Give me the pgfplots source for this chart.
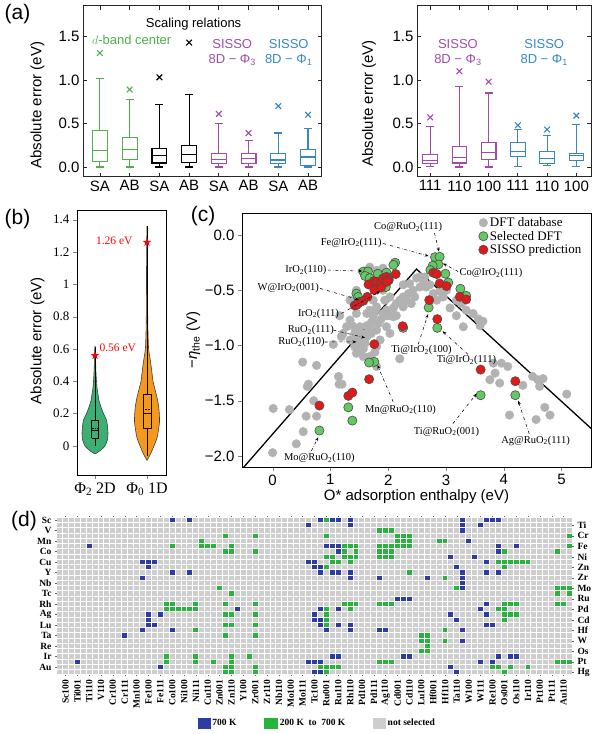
\documentclass[border=0pt]{standalone}
\usepackage{fontspec}
\setmainfont{Liberation Sans}
\newfontfamily\tnr{Liberation Serif}
\usepackage{pgfplots}
\pgfplotsset{compat=1.18}
\usepgfplotslibrary{statistics}
\usetikzlibrary{arrows.meta}

\definecolor{agreen}{RGB}{80,175,75}
\definecolor{apurple}{RGB}{160,75,170}
\definecolor{ablue}{RGB}{55,135,200}
\definecolor{vgreen}{RGB}{60,175,115}
\definecolor{vorange}{RGB}{247,152,30}
\definecolor{dgray}{RGB}{178,178,178}
\definecolor{sgreen}{RGB}{100,200,100}
\definecolor{sred}{RGB}{225,25,25}
\definecolor{hblue}{RGB}{45,60,165}
\definecolor{hgreen}{RGB}{40,180,60}
\definecolor{hgray}{RGB}{206,206,206}

\newcommand{\fA}{\fontsize{15}{18}\selectfont}
\newcommand{\fB}{\fontsize{13}{14.5}\selectfont}
\newcommand{\fT}{\tnr\fontsize{13}{15}\selectfont}
\newcommand{\fS}{\tnr\fontsize{10.5}{12}\selectfont}
\newcommand{\fD}{\tnr\bfseries\fontsize{9.5}{10}\selectfont}
\newcommand{\fP}{\fontsize{21}{24}\selectfont}

\pgfdeclareplotmark{fstar}{%
  \pgfpathmoveto{\pgfpointpolar{90}{\pgfplotmarksize}}%
  \pgfpathlineto{\pgfpointpolar{126}{0.4\pgfplotmarksize}}%
  \pgfpathlineto{\pgfpointpolar{162}{\pgfplotmarksize}}%
  \pgfpathlineto{\pgfpointpolar{198}{0.4\pgfplotmarksize}}%
  \pgfpathlineto{\pgfpointpolar{234}{\pgfplotmarksize}}%
  \pgfpathlineto{\pgfpointpolar{270}{0.4\pgfplotmarksize}}%
  \pgfpathlineto{\pgfpointpolar{306}{\pgfplotmarksize}}%
  \pgfpathlineto{\pgfpointpolar{342}{0.4\pgfplotmarksize}}%
  \pgfpathlineto{\pgfpointpolar{18}{\pgfplotmarksize}}%
  \pgfpathlineto{\pgfpointpolar{54}{0.4\pgfplotmarksize}}%
  \pgfpathclose\pgfusepathqfill}
\pgfdeclareplotmark{cell}{\pgfpathrectangle{\pgfqpoint{-2.45pt}{-2.1pt}}{\pgfqpoint{4.9pt}{4.2pt}}\pgfusepathqfill}

\begin{document}
\begin{tikzpicture}
\useasboundingbox (0pt,0pt) rectangle (600pt,734pt);

% ---------------- (a) left
\begin{axis}[
  at={(83pt,557pt)}, anchor=south west, scale only axis,
  width=239pt, height=171pt,
  xmin=-0.57, xmax=7.47, ymin=-0.115, ymax=1.85,
  xtick={0,1,2,3,4,5,6,7}, xticklabels={SA,AB,SA,AB,SA,AB,SA,AB},
  ytick={0,0.5,1,1.5},
  yticklabel style={/pgf/number format/fixed,/pgf/number format/fixed zerofill,/pgf/number format/precision=1},
  /pgf/number format/assume math mode=true,
  tick label style={font=\fA},
  ylabel={Absolute error (eV)},
  ylabel style={font=\fA, at={(axis description cs:-0.19,0.42)}, anchor=center},
  tick align=inside, major tick length=4pt,
  axis line style={line width=1pt, black!85},
  tick style={line width=0.8pt, black!85},
  boxplot/draw direction=y,
  boxplot/box extend=0.5, boxplot/whisker extend=0.27,
  clip=false,
]
\addplot[agreen, line width=1.1pt, mark=x, mark size=4pt, boxplot prepared={draw position=0, lower whisker=0, lower quartile=0.065, median=0.19, upper quartile=0.42, upper whisker=1.015}] coordinates {(0,1.31)};
\addplot[agreen, line width=1.1pt, mark=x, mark size=4pt, boxplot prepared={draw position=1, lower whisker=0, lower quartile=0.085, median=0.2, upper quartile=0.34, upper whisker=0.78}] coordinates {(1,0.89)};
\addplot[black, line width=1.1pt, mark=x, mark size=4pt, boxplot prepared={draw position=2, lower whisker=0, lower quartile=0.046, median=0.13, upper quartile=0.21, upper whisker=0.715}] coordinates {(2,1.03)};
\addplot[black, line width=1.1pt, mark=x, mark size=4pt, boxplot prepared={draw position=3, lower whisker=0, lower quartile=0.054, median=0.14, upper quartile=0.25, upper whisker=0.83}] coordinates {(3,1.43)};
\addplot[apurple, line width=1.1pt, mark=x, mark size=4pt, boxplot prepared={draw position=4, lower whisker=0, lower quartile=0.035, median=0.085, upper quartile=0.15, upper whisker=0.5}] coordinates {(4,0.61)};
\addplot[apurple, line width=1.1pt, mark=x, mark size=4pt, boxplot prepared={draw position=5, lower whisker=0, lower quartile=0.04, median=0.1, upper quartile=0.16, upper whisker=0.3}] coordinates {(5,0.39)};
\addplot[ablue, line width=1.1pt, mark=x, mark size=4pt, boxplot prepared={draw position=6, lower whisker=0, lower quartile=0.04, median=0.08, upper quartile=0.15, upper whisker=0.39}] coordinates {(6,0.7)};
\addplot[ablue, line width=1.1pt, mark=x, mark size=4pt, boxplot prepared={draw position=7, lower whisker=0, lower quartile=0.02, median=0.115, upper quartile=0.2, upper whisker=0.44}] coordinates {(7,0.6)};
\node[agreen, font=\fB] at (axis cs:1.07,1.465) {$d$-band center};
\node[font=\fB] at (axis cs:3.15,1.64) {Scaling relations};
\node[apurple, font=\fB, align=center] at (axis cs:4.45,1.315) {SISSO\\8D − Φ\textsubscript{3}};
\node[ablue, font=\fB, align=center] at (axis cs:6.35,1.315) {SISSO\\8D − Φ\textsubscript{1}};
\end{axis}

% ---------------- (a) right
\begin{axis}[
  at={(417pt,557pt)}, anchor=south west, scale only axis,
  width=174pt, height=171pt,
  xmin=-0.45, xmax=5.5, ymin=-0.115, ymax=1.85,
  xtick={0,1,2,3,4,5}, xticklabels={111,110,100,111,110,100},
  ytick={0,0.5,1,1.5},
  yticklabel style={/pgf/number format/fixed,/pgf/number format/fixed zerofill,/pgf/number format/precision=1},
  /pgf/number format/assume math mode=true,
  tick label style={font=\fA},
  ylabel={Absolute error (eV)},
  ylabel style={font=\fA, at={(axis description cs:-0.276,0.43)}, anchor=center},
  tick align=inside, major tick length=4pt,
  axis line style={line width=1pt, black!85},
  tick style={line width=0.8pt, black!85},
  boxplot/draw direction=y,
  boxplot/box extend=0.5, boxplot/whisker extend=0.27,
  clip=false,
]
\addplot[apurple, line width=1.1pt, mark=x, mark size=4pt, boxplot prepared={draw position=0, lower whisker=0.01, lower quartile=0.035, median=0.077, upper quartile=0.14, upper whisker=0.47}] coordinates {(0,0.57)};
\addplot[apurple, line width=1.1pt, mark=x, mark size=4pt, boxplot prepared={draw position=1, lower whisker=0, lower quartile=0.046, median=0.11, upper quartile=0.24, upper whisker=0.93}] coordinates {(1,1.1)};
\addplot[apurple, line width=1.1pt, mark=x, mark size=4pt, boxplot prepared={draw position=2, lower whisker=0, lower quartile=0.09, median=0.17, upper quartile=0.28, upper whisker=0.85}] coordinates {(2,0.98)};
\addplot[ablue, line width=1.1pt, mark=x, mark size=4pt, boxplot prepared={draw position=3, lower whisker=0.01, lower quartile=0.12, median=0.18, upper quartile=0.28, upper whisker=0.43}] coordinates {(3,0.48)};
\addplot[ablue, line width=1.1pt, mark=x, mark size=4pt, boxplot prepared={draw position=4, lower whisker=0.015, lower quartile=0.035, median=0.1, upper quartile=0.18, upper whisker=0.36}] coordinates {(4,0.43)};
\addplot[ablue, line width=1.1pt, mark=x, mark size=4pt, boxplot prepared={draw position=5, lower whisker=0.01, lower quartile=0.07, median=0.13, upper quartile=0.155, upper whisker=0.49}] coordinates {(5,0.59)};
\node[apurple, font=\fB, align=center] at (axis cs:0.95,1.315) {SISSO\\8D − Φ\textsubscript{3}};
\node[ablue, font=\fB, align=center] at (axis cs:3.9,1.315) {SISSO\\8D − Φ\textsubscript{1}};
\end{axis}

% ---------------- (b)
\begin{axis}[
  at={(77pt,259pt)}, anchor=south west, scale only axis,
  width=89pt, height=265pt,
  xmin=-18, xmax=71, ymin=-0.18, ymax=1.46,
  xtick={0,52}, xticklabels={{Φ\textsubscript{2} 2D},{Φ\textsubscript{0} 1D}},
  ytick={0,0.2,0.4,0.6,0.8,1,1.2,1.4},
  /pgf/number format/assume math mode=true,
  yticklabel style={font=\fT},
  xticklabel style={font=\tnr\fontsize{16}{18}\selectfont},
  ylabel={Absolute error (eV)},
  ylabel style={font=\fA, at={(axis description cs:-0.444,0.506)}, anchor=center},
  tick align=outside, tick pos=left, major tick length=4pt,
  axis line style={line width=0.9pt},
  clip=false,
]
\addplot[fill=vgreen, draw=black!75, line width=0.6pt, smooth, tension=0.4] coordinates {
(0,-0.05) (-5,-0.03) (-10,0) (-12.5,0.04) (-13,0.08) (-12.5,0.12) (-11.5,0.16) (-8.5,0.2) (-6,0.24) (-4,0.28) (-3,0.32) (-2,0.36) (-1.5,0.4) (-1,0.45) (-0.7,0.5) (-0.5,0.56) (0,0.62)
(0.5,0.56) (0.7,0.5) (1,0.45) (1.5,0.4) (2,0.36) (3,0.32) (4,0.28) (6,0.24) (8.5,0.2) (11.5,0.16) (12.5,0.12) (13,0.08) (12.5,0.04) (10,0) (5,-0.03) (0,-0.05)
};
\addplot[fill=vorange, draw=black!75, line width=0.6pt, smooth, tension=0.4] coordinates {
(52,-0.09) (48.5,-0.05) (45,0) (42,0.05) (40.5,0.1) (39.5,0.15) (39.7,0.2) (40.5,0.25) (42,0.3) (44,0.35) (46,0.4) (47,0.45) (48,0.5) (49.2,0.55) (50.4,0.6) (51,0.7) (51.3,0.8) (51.5,1.0) (51.6,1.2) (52,1.36)
(52.4,1.2) (52.5,1.0) (52.7,0.8) (53,0.7) (53.6,0.6) (54.8,0.55) (56,0.5) (57,0.45) (58,0.4) (60,0.35) (62,0.3) (63.5,0.25) (64.3,0.2) (64.5,0.15) (63.5,0.1) (62,0.05) (59,0) (55.5,-0.05) (52,-0.09)
};
% boxes inside violins
\addplot[black, line width=0.6pt] coordinates {(-3.3,0.05) (3.3,0.05) (3.3,0.16) (-3.3,0.16) (-3.3,0.05)};
\addplot[black, line width=0.6pt] coordinates {(-3.3,0.097) (3.3,0.097)};
\addplot[black, line width=0.6pt] coordinates {(0,0) (0,0.05)};
\addplot[black, line width=0.6pt] coordinates {(0,0.16) (0,0.61)};
\addplot[black, densely dotted, line width=0.6pt] coordinates {(-3.3,0.11) (3.3,0.11)};
\addplot[black, line width=0.6pt] coordinates {(48,0.11) (56,0.11) (56,0.32) (48,0.32) (48,0.11)};
\addplot[black, line width=0.6pt] coordinates {(48,0.2) (56,0.2)};
\addplot[black, line width=0.6pt] coordinates {(52,-0.06) (52,0.11)};
\addplot[black, line width=0.6pt] coordinates {(52,0.32) (52,1.36)};
\addplot[black, densely dotted, line width=0.6pt] coordinates {(48,0.226) (56,0.226)};
\addplot[only marks, mark=fstar, mark size=4.5pt, color=red] coordinates {(0,0.56) (52,1.26)};
\node[red, font=\tnr\fontsize{11.5}{13}\selectfont, anchor=west] at (axis cs:1,0.607) {0.56 eV};
\node[red, font=\tnr\fontsize{11.5}{13}\selectfont, anchor=east] at (axis cs:41,1.27) {1.26 eV};
\end{axis}

% ---------------- (c)
\begin{axis}[
  at={(242pt,267pt)}, anchor=south west, scale only axis,
  width=349pt, height=254pt,
  xmin=-0.53, xmax=5.51, ymin=-2.1, ymax=0.2,
  xtick={0,1,2,3,4,5}, ytick={-2,-1.5,-1,-0.5,0},
  yticklabels={−2.0,−1.5,−1.0,−0.5,0.0},
  /pgf/number format/assume math mode=true,
  tick label style={font=\fA},
  xlabel={O* adsorption enthalpy (eV)},
  ylabel={−\textit{η}\textsubscript{the} (V)},
  label style={font=\fA},
  xlabel style={at={(axis description cs:0.5,-0.118)}, anchor=center},
  ylabel style={at={(axis description cs:-0.14,0.5)}, anchor=center},
  tick align=outside, tick pos=left, major tick length=4pt,
  axis line style={line width=0.9pt},
  clip mode=individual,
  legend style={at={(0.675,0.995)}, anchor=north west, draw=none, fill=none, font=\fT, row sep=-1pt, inner sep=1pt},
  legend cell align=left,
]
\addplot[black, line width=1.3pt, forget plot] coordinates {(-0.53,-2.12) (2.49,-0.308) (5.51,-1.75)};
\addplot[color=dgray, only marks, mark=*, mark size=4.3pt, mark options={fill=dgray, draw=dgray}] coordinates {
(0.00,-1.97) (0.01,-1.57) (0.29,-1.58) (0.41,-1.89) (0.53,-1.78) (0.58,-1.64) (0.60,-1.37) (0.62,-1.35) (0.71,-1.50) (0.52,-1.15) (0.76,-1.64) (0.76,-1.18) (1.05,-0.99) (1.14,-1.28) (1.15,-1.35) (1.20,-1.35) (1.22,-0.89) (1.28,-0.83) (1.34,-0.77) (1.38,-0.82) (1.42,-0.89) (1.45,-0.95) (1.48,-1.01) (1.51,-1.06) (1.57,-1.03) (1.60,-0.98) (1.63,-0.92) (1.65,-0.88) (1.68,-0.83) (1.71,-0.79) (1.74,-0.74) (1.77,-0.69) (1.54,-0.89) (1.45,-0.88) (1.39,-0.95) (1.57,-0.95) (1.51,-0.83) (1.63,-0.82) (1.71,-0.89) (1.80,-0.86) (1.83,-0.80) (1.88,-0.76) (1.91,-0.71) (1.97,-0.68) (2.03,-0.73) (2.09,-0.66) (2.14,-0.62) (2.20,-0.59) (2.26,-0.56) (2.32,-0.59) (2.35,-0.53) (2.40,-0.62) (2.43,-0.50) (2.46,-0.56) (2.55,-0.47) (2.61,-0.44) (2.66,-0.47) (2.26,-0.65) (2.09,-0.74) (1.97,-0.73) (1.74,-0.59) (1.80,-0.65) (1.68,-0.68) (1.63,-0.71) (2.14,-0.73) (2.03,-0.56) (1.94,-0.59) (2.26,-0.45) (2.37,-0.44) (2.55,-0.38) (2.63,-0.38) (2.49,-0.39) (2.72,-0.45) (2.89,-0.51) (3.01,-0.50) (3.18,-0.59) (3.27,-0.62) (3.35,-0.68) (3.47,-0.71) (3.56,-0.76) (3.64,-0.78) (3.59,-0.82) (3.07,-0.66) (3.18,-0.73) (3.30,-0.83) (3.82,-1.16) (3.96,-1.16) (4.07,-1.19) (3.85,-1.25) (3.93,-1.34) (4.33,-1.36) (4.50,-1.28) (4.59,-1.31) (4.68,-1.30) (4.62,-1.37) (5.09,-1.44) (4.10,-1.63) (4.56,-1.67) (4.80,-1.63) (4.71,-1.56) (3.76,-1.31) (2.20,-1.12) (1.80,-1.19) (1.68,-1.10) (1.45,-1.07) (1.57,-1.10) (1.77,-1.06) (1.80,-1.01) (1.42,-1.01) (1.34,-0.95) (1.19,-0.92) (1.34,-0.59) (1.45,-0.50) (1.68,-0.29) (1.80,-0.32) (1.91,-0.30) (2.03,-0.38) (1.91,-0.50) (1.45,-0.71) (1.97,-0.83) (1.86,-0.95) (2.03,-0.89) (2.84,-0.59) (2.95,-0.56) (2.78,-0.53) (1.16,-0.73)
};
\addlegendentry{DFT database}
\addplot[color=black!70, only marks, mark=*, mark size=4.6pt, mark options={fill=sgreen, draw=black!70, line width=0.6pt}] coordinates {
(2.12,-0.25) (2.09,-0.27) (1.57,-0.33) (1.65,-0.33) (1.60,-0.37) (1.82,-0.35) (1.97,-0.34) (1.96,-0.47) (1.45,-0.53) (1.48,-0.56) (1.68,-0.39) (2.81,-0.20) (2.89,-0.196) (2.87,-0.266) (2.77,-0.278) (2.73,-0.317) (2.99,-0.35) (3.04,-0.43) (3.25,-0.486) (3.35,-0.55) (2.70,-0.656) (2.85,-0.84) (2.26,-0.84) (1.76,-1.148) (1.67,-1.154) (1.31,-1.56) (1.38,-1.68) (0.81,-1.77) (3.60,-1.45) (4.20,-1.45)
};
\addlegendentry{Selected DFT}
\addplot[color=black!70, only marks, mark=*, mark size=4.6pt, mark options={fill=sred, draw=black!70, line width=0.6pt}] coordinates {
(1.66,-0.447) (1.75,-0.417) (1.80,-0.423) (1.87,-0.432) (1.91,-0.393) (1.97,-0.378) (2.01,-0.408) (2.13,-0.353) (1.76,-0.498) (1.88,-0.474) (1.64,-0.559) (1.57,-0.595) (1.48,-0.619) (1.42,-0.637) (1.51,-0.604) (1.45,-0.634) (1.98,-0.423) (2.78,-0.341) (2.84,-0.353) (2.89,-0.438) (3.01,-0.462) (3.24,-0.559) (3.35,-0.583) (2.71,-0.589) (2.85,-0.761) (2.25,-0.825) (1.76,-0.988) (1.67,-1.305) (1.31,-1.456) (1.38,-1.426) (0.81,-1.544) (3.60,-1.218) (4.20,-1.323)
};
\addlegendentry{SISSO prediction}
\tikzset{ann/.style={dash dot, line width=0.55pt, -{Stealth[length=4pt,width=3pt]}}}
\node[font=\fS] at (axis cs:2.346,0.069) {Co@RuO\textsubscript{2}(111)};
\draw[ann] (axis cs:2.80,0.02) -- (axis cs:2.88,-0.15);
\node[font=\fS] at (axis cs:1.36,-0.07) {Fe@IrO\textsubscript{2}(111)};
\draw[ann] (axis cs:1.91,-0.076) -- (axis cs:2.70,-0.19);
\node[font=\fS] at (axis cs:0.576,-0.317) {IrO\textsubscript{2}(110)};
\draw[ann] (axis cs:0.96,-0.317) -- (axis cs:1.55,-0.326);
\node[font=\fS] at (axis cs:3.78,-0.347) {Co@IrO\textsubscript{2}(111)};
\draw[ann] (axis cs:3.21,-0.33) -- (axis cs:2.95,-0.257);
\node[font=\fS] at (axis cs:0.27,-0.477) {W@IrO\textsubscript{2}(001)};
\draw[ann] (axis cs:0.82,-0.483) -- (axis cs:1.49,-0.585);
\node[font=\fS] at (axis cs:0.795,-0.71) {IrO\textsubscript{2}(111)};
\draw[ann] (axis cs:1.19,-0.71) -- (axis cs:1.86,-0.51);
\node[font=\fS] at (axis cs:0.66,-0.86) {RuO\textsubscript{2}(111)};
\draw[ann] (axis cs:1.05,-0.86) -- (axis cs:1.60,-0.93);
\node[font=\fS] at (axis cs:0.50,-0.968) {RuO\textsubscript{2}(110)};
\draw[ann] (axis cs:0.90,-0.968) -- (axis cs:1.45,-0.967);
\node[font=\fS] at (axis cs:2.576,-1.042) {Ti@IrO\textsubscript{2}(100)};
\draw[ann] (axis cs:2.52,-0.988) -- (axis cs:2.69,-0.716);
\node[font=\fS] at (axis cs:3.354,-1.133) {Ti@IrO\textsubscript{2}(111)};
\draw[ann] (axis cs:3.38,-1.08) -- (axis cs:2.94,-0.87);
\node[font=\fS] at (axis cs:2.213,-1.58) {Mn@RuO\textsubscript{2}(110)};
\draw[ann] (axis cs:2.086,-1.51) -- (axis cs:1.815,-1.178);
\node[font=\fS] at (axis cs:3.01,-1.78) {Ti@RuO\textsubscript{2}(001)};
\draw[ann] (axis cs:3.12,-1.707) -- (axis cs:3.53,-1.435);
\node[font=\fS] at (axis cs:4.55,-1.86) {Ag@RuO\textsubscript{2}(111)};
\draw[ann] (axis cs:4.44,-1.80) -- (axis cs:4.25,-1.50);
\node[font=\fS] at (axis cs:0.81,-2.02) {Mo@RuO\textsubscript{2}(110)};
\draw[ann] (axis cs:0.67,-1.955) -- (axis cs:0.79,-1.83);
\end{axis}

% ---------------- (d)
\begin{axis}[
  at={(56.5pt,59.1pt)}, anchor=south west, scale only axis,
  width=516pt, height=157.5pt,
  xmin=-0.5, xmax=86.5, ymin=-0.5, ymax=29.5, y dir=reverse,
  axis background/.style={fill=hgray},
  axis line style={draw=none},
  xtick={1,3,...,85},
  xticklabels={Sc100,Ti001,Ti110,V110,Cr100,Cr111,Mn100,Fe100,Fe111,Co100,Ni100,Ni111,Cu110,Zn001,Zn110,Y100,Zr001,Zr110,Nb110,Mo100,Mo111,Tc100,Ru001,Ru110,Rh110,Pd100,Pd111,Ag110,Cd001,Cd110,Lu100,Hf001,Hf110,Ta110,W100,W111,Re100,Os001,Os110,Ir110,Pt100,Pt111,Au110},
  ytick={0,2,...,28},
  yticklabels={Sc,V,Mn,Co,Cu,Y,Nb,Tc,Rh,Ag,Lu,Ta,Re,Ir,Au},
  ytick pos=left,
  minor xtick={-0.5,0.5,...,86.5}, minor ytick={-0.5,0.5,...,29.5},
  xminorgrids, yminorgrids, minor grid style={white, line width=1pt},
  minor tick length=0pt, major tick length=1.5pt, tick align=outside,
  tick style={black!60, line width=0.4pt},
  xticklabel style={rotate=90, anchor=east, font=\fD},
  yticklabel style={font=\fD},
  legend columns=3,
  legend style={at={(axis description cs:0.274,-0.305)}, anchor=west, draw=none, fill=none, font=\fD, inner sep=0pt, /tikz/every even column/.append style={column sep=26pt}},
  legend cell align=left,
  clip=false,
]
\addplot[only marks, mark=cell, color=hblue, forget plot] coordinates {
(19,0) (22,0) (44,0) (46,0) (47,0) (49,0) (68,0) (72,0) (73,0) (74,0)
(42,1) (49,1) (68,1) (71,1)
(68,2)
(69,4)
(5,5) (45,5) (46,5) (47,5) (74,5) (77,5)
(47,6) (74,6)
(66,7) (70,7)
(14,8) (15,8) (16,8) (42,8) (43,8) (72,8)
(15,9) (43,9) (44,9) (67,9)
(19,10) (22,10) (44,10) (46,10) (47,10) (49,10) (68,10) (72,10) (74,10)
(14,11) (49,11) (54,11) (62,11) (68,11)
(68,12) (68,13)
(57,15) (58,15) (59,15)
(72,16)
(30,17) (44,17) (47,17) (71,17)
(15,18) (17,18) (43,18) (66,18) (72,18)
(15,19) (43,19) (44,19) (67,19)
(15,20) (16,20) (44,20) (47,20) (49,20) (72,20) (73,20)
(14,21) (19,21) (45,21) (49,21) (54,21) (55,21) (68,21)
(11,22)
(68,23)
(46,26) (47,26) (58,26) (59,26) (74,26) (76,26) (77,26)
(3,27) (42,27) (43,27) (44,27) (71,27) (73,27)
(17,28) (66,28)
(43,29) (44,29) (67,29)
};
\addplot[only marks, mark=cell, color=hgreen, forget plot] coordinates {
(45,0)
(54,2) (55,2) (56,2)
(28,3) (33,3) (45,3) (57,3) (58,3) (59,3) (86,3)
(24,4) (57,4) (58,4) (59,4) (64,4) (65,4)
(19,5) (24,5) (25,5) (26,5) (29,5) (48,5) (49,5) (50,5) (54,5) (55,5) (56,5) (57,5) (58,5) (59,5) (86,5)
(28,6) (29,6) (33,6) (48,6) (50,6) (54,6) (55,6) (56,6) (75,6) (84,6)
(45,7) (46,7) (48,7) (49,7) (50,7) (54,7) (55,7) (56,7)
(46,8) (47,8) (49,8) (74,8) (75,8) (76,8) (77,8) (78,8) (79,8)
(45,9) (75,9)
(59,10)
(65,11)
(27,13) (67,13) (84,13) (85,13) (86,13)
(29,14) (84,14) (86,14)
(18,16) (19,16) (23,16) (28,16) (33,16) (48,16) (49,16) (50,16) (54,16) (55,16) (56,16) (75,16) (76,16) (77,16) (84,16) (85,16)
(18,17) (19,17) (20,17) (21,17) (22,17) (23,17) (45,17) (49,17) (74,17) (75,17)
(28,18) (29,18) (33,18) (45,18) (75,18) (76,18) (77,18)
(45,19) (75,19)
(28,20) (29,20) (33,20) (45,20)
(23,21) (65,21)
(28,22) (33,22) (61,22) (62,22)
(61,23) (62,23) (65,23)
(62,24)
(61,25) (62,25)
(18,26) (23,26) (29,26) (32,26)
(18,27) (23,27) (26,27) (29,27) (54,27) (55,27) (56,27) (84,27) (85,27) (86,27)
(28,28) (29,28) (33,28) (44,28) (45,28) (46,28) (47,28) (73,28) (74,28) (76,28) (79,28)
(28,29) (29,29) (33,29) (45,29) (75,29)
};
\addlegendimage{legend image code/.code={\fill[hblue] (0pt,-5pt) rectangle (12pt,5pt);}}
\addlegendentry{700 K}
\addlegendimage{legend image code/.code={\fill[hgreen] (0pt,-5pt) rectangle (13pt,5pt);}}
\addlegendentry{200 K\ \ to\ \ 700 K}
\addlegendimage{legend image code/.code={\fill[hgray] (0pt,-5pt) rectangle (12pt,5pt);}}
\addlegendentry{not selected}
\end{axis}
\begin{axis}[
  at={(56.5pt,59.1pt)}, anchor=south west, scale only axis,
  width=516pt, height=157.5pt,
  xmin=-0.5, xmax=86.5, ymin=-0.5, ymax=29.5, y dir=reverse,
  hide x axis, axis line style={draw=none},
  ytick={1,3,...,29},
  yticklabels={Ti,Cr,Fe,Ni,Zn,Zr,Mo,Ru,Pd,Cd,Hf,W,Os,Pt,Hg},
  yticklabel pos=right, ytick pos=right,
  major tick length=1.5pt, tick align=outside,
  tick style={black!60, line width=0.4pt},
  yticklabel style={font=\fD},
]
\end{axis}

\node[font=\fP] at (17.5pt,720pt) {(a)};
\node[font=\fP] at (17.5pt,515pt) {(b)};
\node[font=\fP] at (203pt,518pt) {(c)};
\node[font=\fP] at (24pt,213pt) {(d)};
\end{tikzpicture}
\end{document}
